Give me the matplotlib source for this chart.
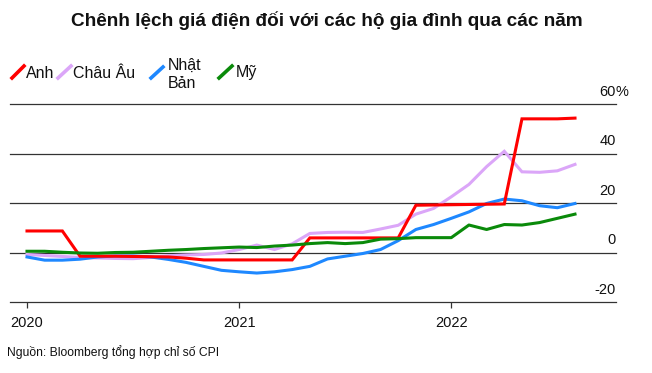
import matplotlib
matplotlib.use("Agg")
import matplotlib.pyplot as plt
from matplotlib.lines import Line2D
import numpy as np

plt.rcParams['font.family'] = ['Liberation Sans', 'DejaVu Sans']

# ---- data (monthly, Jan 2020 .. Aug 2022) ----
months = list(range(32))
year_ticks = [0, 12, 24]
year_labels = ["2020", "2021", "2022"]

anh = [8.7, 8.7, 8.7, -1.5, -1.5, -1.5, -1.6, -1.7, -1.8, -2.3, -3.0, -3.0,
       -3.0, -3.0, -3.0, -3.0, 5.9, 5.9, 5.9, 5.9, 5.9, 5.9, 19.1, 19.2,
       19.3, 19.4, 19.5, 19.6, 54.0, 54.0, 54.0, 54.3]
chau_au = [-0.8, -1.2, -1.6, -2.0, -2.2, -2.4, -2.5, -2.0, -1.3, -1.0, -0.8, -0.2,
           1.2, 3.0, 1.2, 3.5, 7.7, 8.1, 8.2, 8.1, 9.5, 11.0, 15.5, 17.8,
           22.5, 27.5, 34.7, 40.9, 32.6, 32.4, 33.0, 35.6]
nhat_ban = [-1.8, -3.1, -3.1, -2.7, -1.8, -1.4, -1.4, -1.8, -2.8, -4.0, -5.6, -7.2,
            -7.8, -8.3, -7.8, -6.9, -5.6, -2.6, -1.5, -0.4, 1.2, 4.8, 9.3, 11.3,
            13.8, 16.4, 19.8, 21.6, 20.9, 18.9, 18.1, 19.8]
my = [0.5, 0.5, 0.1, -0.2, -0.3, 0.0, 0.1, 0.5, 0.9, 1.2, 1.6, 1.9,
      2.2, 2.0, 2.6, 3.0, 3.6, 4.0, 3.6, 4.0, 5.4, 5.6, 6.0, 6.0,
      6.0, 11.1, 9.3, 11.3, 11.1, 12.1, 13.8, 15.5]

y_ticks = [-20, 0, 20, 40, 60]
y_labels = ["-20", "0", "20", "40", "60"]

series_names = ["Anh", "Châu Âu", "Nhật\nBản", "Mỹ"]
colors = {"Anh": "#FF0000", "Châu Âu": "#DBA6F8", "Nhật\nBản": "#1E88FF", "Mỹ": "#0A8A0A"}

title = "Chênh lệch giá điện đối với các hộ gia đình qua các năm"
source = "Nguồn: Bloomberg tổng hợp chỉ số CPI"

# ---- figure ----
W, H = 652, 373
fig = plt.figure(figsize=(W / 100, H / 100), dpi=100)

def fx(px):
    return px / W

def fy(py):
    return 1 - py / H

ax_left, ax_right, ax_top, ax_bottom = 10, 616, 104, 302
ax = fig.add_axes([fx(ax_left), fy(ax_bottom), (ax_right - ax_left) / W, (ax_bottom - ax_top) / H])

grid_color = "#333333"
for v in y_ticks:
    ax.axhline(v, color=grid_color, lw=0.9, zorder=0.5, clip_on=False)

lw = 2.2
ax.plot(months, chau_au, color=colors["Châu Âu"], lw=lw, zorder=2, solid_joinstyle='miter')
ax.plot(months, nhat_ban, color=colors["Nhật\nBản"], lw=lw, zorder=3)
ax.plot(months, anh, color=colors["Anh"], lw=lw, zorder=4, solid_joinstyle='miter')
ax.plot(months, my, color=colors["Mỹ"], lw=lw, zorder=5)

# x scale: first point at px 27, last at px 575
ppm = (575 - 27) / (months[-1] - months[0])
ax.set_xlim(months[0] - (27 - ax_left) / ppm, months[-1] + (ax_right - 575) / ppm)
ax.set_ylim(-20, 60)

for s in ax.spines.values():
    s.set_visible(False)

ax.set_yticks([])
ax.set_xticks(year_ticks)
ax.set_xticklabels(year_labels, fontsize=10.5, color="#111111")
ax.tick_params(axis='x', length=4, width=0.9, color=grid_color, pad=6)

# y labels on right, above gridlines
for v, lab in zip(y_ticks, y_labels):
    ax.annotate(lab, xy=(1, v), xycoords=('axes fraction', 'data'),
                xytext=(0, 6), textcoords='offset points',
                ha='right', va='baseline', fontsize=10.5, color="#111111")
ax.annotate("%", xy=(1, 60), xycoords=('axes fraction', 'data'),
            xytext=(0, 6), textcoords='offset points',
            ha='left', va='baseline', fontsize=10.5, color="#111111")

# title
fig.text(fx(327), fy(26), title, ha='center', va='baseline',
         fontsize=13.7, fontweight='bold', color="#111111")

# legend (manual)
leg = [
    ("Anh", (12, 78, 24, 66), 26, [(78, "Anh")]),
    ("Châu Âu", (58, 78, 71, 66), 73, [(78, "Châu Âu")]),
    ("Nhật\nBản", (151, 78, 163, 67), 168, [(70, "Nhật"), (88, "Bản")]),
    ("Mỹ", (219, 78, 232, 66), 236, [(77, "Mỹ")]),
]
for name, (x0, y0, x1, y1), tx, lines in leg:
    fig.add_artist(Line2D([fx(x0), fx(x1)], [fy(y0), fy(y1)], color=colors[name],
                          lw=2.6, transform=fig.transFigure))
    for by, t in lines:
        fig.text(fx(tx), fy(by), t, ha='left', va='baseline', fontsize=11.5, color="#111111")

# source
fig.text(fx(7), fy(356), source, ha='left', va='baseline', fontsize=8.7, color="#111111")

fig.savefig("out.png", dpi=100)
